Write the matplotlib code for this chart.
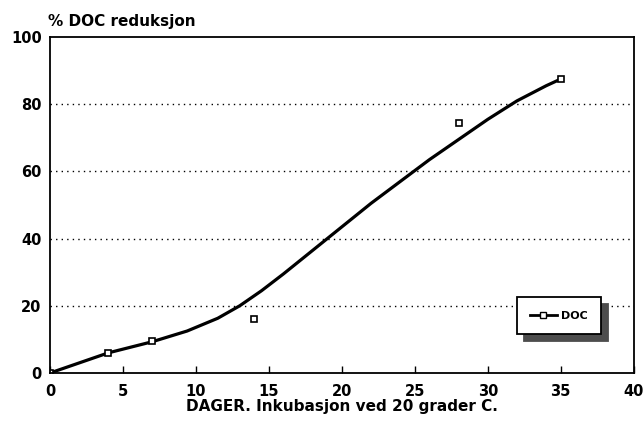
import matplotlib.pyplot as plt

# measured DOC reduction (%) vs days
days = [0, 4, 7, 14, 28, 35]
doc_red = [0, 6, 9.5, 16, 74.5, 87.5]

# fitted curve
curve_x = [0, 2, 4, 7, 9.4, 11.5, 13, 14.5, 16, 18, 20, 22, 24, 26, 28, 30, 32, 34, 35]
curve_y = [0, 3, 6, 9.3, 12.5, 16.3, 20, 24.5, 29.5, 36.5, 43.5, 50.5, 57, 63.5, 69.5, 75.5, 81, 85.5, 87.5]

xticks = [0, 5, 10, 15, 20, 25, 30, 35, 40]
yticks = [0, 20, 40, 60, 80, 100]

plt.rcParams['font.family'] = ['DejaVu Sans']
plt.rcParams['font.weight'] = 'bold'

fig = plt.figure(figsize=(6.44, 4.21), dpi=100)
ax = fig.add_axes([0.0776, 0.114, 0.9064, 0.798])

ax.plot(curve_x, curve_y, color='black', lw=2.3, solid_capstyle='round', solid_joinstyle='round')
ax.plot(days, doc_red, ls='none', marker='s', ms=5, mfc='white', mec='black', mew=1.2)

# legend proxy
ax.plot([], [], color='black', lw=2, marker='s', ms=5, mfc='white', mec='black', label='DOC')

for y in yticks[1:-1]:
    ax.axhline(y, color='black', lw=1, ls=(0, (1, 3)), zorder=0)

ax.set_xlim(0, 40)
ax.set_ylim(0, 100)
ax.set_xticks(xticks)
ax.set_yticks(yticks)
ax.tick_params(axis='x', direction='in', length=5, width=1, labelsize=10.5, pad=8)
ax.tick_params(axis='y', length=0, labelsize=10.5, pad=6)
for s in ax.spines.values():
    s.set_linewidth(1.3)

ax.set_xlabel('DAGER. Inkubasjon ved 20 grader C.', fontsize=11, fontweight='bold', labelpad=0)
fig.text(0.074, 0.948, '% DOC reduksjon', fontsize=11, fontweight='bold', ha='left', va='center')

leg = ax.legend(loc='lower left', bbox_to_anchor=(0.79, 0.1), fancybox=False,
                shadow={'color': '0.3', 'alpha': 1, 'ox': 5, 'oy': -5}, edgecolor='black',
                framealpha=1, fontsize=8, handlelength=2.4, borderpad=1.2, handletextpad=0.4)
leg.get_frame().set_linewidth(1.3)

fig.savefig('out.png', dpi=100)
